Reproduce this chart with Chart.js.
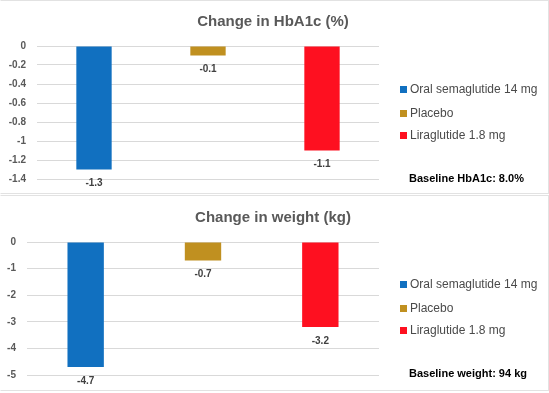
<!DOCTYPE html>
<html lang="en">
<head>
    <meta charset="UTF-8">
    <title>Change in HbA1c and weight</title>
    <style>
        body {
            margin: 0;
            background: #fff;
            font-family: "Liberation Sans", Arial, sans-serif;
        }
        .panel {
            position: absolute;
            left: 0;
            width: 547px;
            border: 1px solid #e2e2e2;
            border-left-color: #fff;
        }
        #panel1 { top: 0; height: 192px; }
        #panel2 { top: 195px; height: 194px; }
        .panel canvas {
            position: absolute;
            left: 0;
            top: 0;
        }
        .title {
            position: absolute;
            left: 0;
            width: 544px;
            text-align: center;
            font-size: 15px;
            font-weight: bold;
            color: #595959;
            line-height: 20px;
        }
        .legend-row {
            position: absolute;
            left: 399px;
            height: 14px;
            line-height: 14px;
            font-size: 12px;
            color: #4a4a4a;
            white-space: nowrap;
        }
        .legend-row span.box {
            display: inline-block;
            width: 7px;
            height: 7px;
            margin-right: 3px;
            vertical-align: 0px;
        }
        .note {
            position: absolute;
            left: 408px;
            top: 170px;
            font-size: 11px;
            font-weight: bold;
            color: #000;
            line-height: 14px;
            white-space: nowrap;
        }
    </style>
    <script src="https://cdn.jsdelivr.net/npm/chart.js"></script>
</head>
<body>
    <div class="panel" id="panel1">
        <canvas id="hba1cChart" width="547" height="192"></canvas>
        <div class="title" style="top: 10px;">Change in HbA1c (%)</div>
        <div class="legend" id="legend1"></div>
        <div class="note">Baseline HbA1c: 8.0%</div>
    </div>
    <div class="panel" id="panel2">
        <canvas id="weightChart" width="547" height="194"></canvas>
        <div class="title" style="top: 11px;">Change in weight (kg)</div>
        <div class="legend" id="legend2"></div>
        <div class="note">Baseline weight: 94 kg</div>
    </div>

    <script>
        // Treatment groups and their values
        const groups = ['Oral semaglutide 14 mg', 'Placebo', 'Liraglutide 1.8 mg'];
        const groupColors = ['#1170c0', '#c09020', '#fe1020'];
        const hba1cChange = [-1.3, -0.1, -1.1];
        const weightChange = [-4.7, -0.7, -3.2];

        // Axis ranges
        const hba1cAxis = [-1.4, 0, 0.2];   // min, max, step
        const weightAxis = [-5, 0, 1];

        // Value labels under each bar end
        const barLabels = {
            id: 'barLabels',
            afterDatasetsDraw(chart) {
                const ctx = chart.ctx;
                const meta = chart.getDatasetMeta(0);
                const values = chart.data.datasets[0].data;
                ctx.save();
                ctx.font = 'bold 10px "Liberation Sans", Arial, sans-serif';
                ctx.fillStyle = '#404040';
                ctx.textAlign = 'center';
                ctx.textBaseline = 'middle';
                meta.data.forEach((bar, i) => {
                    ctx.fillText(values[i].toFixed(1), bar.x, bar.y + 14);
                });
                ctx.restore();
            }
        };

        function makeChart(id, values, axis, axisWidth, top, bottom) {
            const ctx = document.getElementById(id).getContext('2d');
            return new Chart(ctx, {
                type: 'bar',
                data: {
                    labels: groups,
                    datasets: [{
                        data: values,
                        backgroundColor: groupColors,
                        borderWidth: 0,
                        categoryPercentage: 1,
                        barPercentage: 0.31
                    }]
                },
                options: {
                    responsive: false,
                    animation: false,
                    layout: {
                        padding: { top: top, bottom: bottom, left: 0, right: 169 }
                    },
                    plugins: {
                        legend: { display: false },
                        title: { display: false },
                        tooltip: { enabled: false }
                    },
                    scales: {
                        x: { display: false },
                        y: {
                            min: axis[0],
                            max: axis[1],
                            border: { display: false },
                            grid: { color: '#d9d9d9', drawTicks: false },
                            ticks: {
                                stepSize: axis[2],
                                padding: 11,
                                color: '#595959',
                                font: { family: '"Liberation Sans", Arial, sans-serif', size: 10, weight: 'bold' },
                                callback: v => String(Number(v.toFixed(1)))
                            },
                            afterFit(scale) {
                                scale.width = axisWidth;
                                // keep the plot area set by layout padding only
                                scale.paddingTop = 0;
                                scale.paddingBottom = 0;
                            }
                        }
                    }
                },
                plugins: [barLabels]
            });
        }

        function makeLegend(id) {
            const el = document.getElementById(id);
            const rowTops = [81, 105, 127];
            groups.forEach((name, i) => {
                const row = document.createElement('div');
                row.className = 'legend-row';
                row.style.top = rowTops[i] + 'px';
                const box = document.createElement('span');
                box.className = 'box';
                box.style.backgroundColor = groupColors[i];
                row.appendChild(box);
                row.appendChild(document.createTextNode(name));
                el.appendChild(row);
            });
        }

        makeChart('hba1cChart', hba1cChange, hba1cAxis, 36, 45, 14);
        makeChart('weightChart', weightChange, weightAxis, 26, 46, 15);
        makeLegend('legend1');
        makeLegend('legend2');
    </script>
</body>
</html>
